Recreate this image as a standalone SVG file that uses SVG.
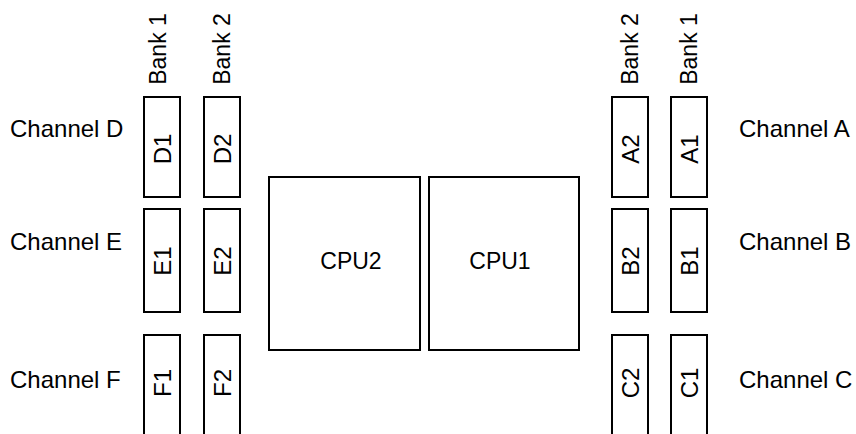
<svg xmlns="http://www.w3.org/2000/svg" width="856" height="434" viewBox="0 0 856 434">
<style>
.box{fill:#fff;stroke:#000;stroke-width:2}
.open{fill:none;stroke:#000;stroke-width:2}
text{font-family:"Liberation Sans",Arial,sans-serif;font-size:24px;fill:#000}
.c{text-anchor:middle}
.bank{font-size:23px}
.cpu{font-size:23px}
</style>
<rect x="0" y="0" width="856" height="434" fill="#fff"/>
<g id="labels">
<text x="10" y="137">Channel D</text>
<text x="10" y="250">Channel E</text>
<text x="10" y="388">Channel F</text>
<text x="739" y="137">Channel A</text>
<text x="739" y="250">Channel B</text>
<text x="739" y="388">Channel C</text>
<text class="c bank" transform="translate(166,49) rotate(-90)">Bank 1</text>
<text class="c bank" transform="translate(230,49) rotate(-90)">Bank 2</text>
<text class="c bank" transform="translate(638,49) rotate(-90)">Bank 2</text>
<text class="c bank" transform="translate(697,49) rotate(-90)">Bank 1</text>
</g>
<g id="cpu2"><rect class="box" x="269" y="177" width="151" height="173"/><text class="c cpu" x="351" y="269">CPU2</text></g>
<g id="cpu1"><rect class="box" x="429" y="177" width="150" height="173"/><text class="c cpu" x="500" y="269">CPU1</text></g>
<g id="D1"><rect class="box" x="144" y="97" width="36" height="100"/><text class="c" transform="translate(171,149) rotate(-90)">D1</text></g>
<g id="D2"><rect class="box" x="204" y="97" width="36" height="100"/><text class="c" transform="translate(231,149) rotate(-90)">D2</text></g>
<g id="E1"><rect class="box" x="144" y="209" width="36" height="103"/><text class="c" transform="translate(171,261) rotate(-90)">E1</text></g>
<g id="E2"><rect class="box" x="204" y="209" width="36" height="103"/><text class="c" transform="translate(231,261) rotate(-90)">E2</text></g>
<g id="F1"><path class="open" d="M144 436V335H180V436"/><text class="c" transform="translate(171,383) rotate(-90)">F1</text></g>
<g id="F2"><path class="open" d="M204 436V335H240V436"/><text class="c" transform="translate(231,383) rotate(-90)">F2</text></g>
<g id="A2"><rect class="box" x="612" y="97" width="36" height="100"/><text class="c" transform="translate(639,149) rotate(-90)">A2</text></g>
<g id="A1"><rect class="box" x="671" y="97" width="36" height="100"/><text class="c" transform="translate(698,149) rotate(-90)">A1</text></g>
<g id="B2"><rect class="box" x="612" y="209" width="36" height="103"/><text class="c" transform="translate(639,261) rotate(-90)">B2</text></g>
<g id="B1"><rect class="box" x="671" y="209" width="36" height="103"/><text class="c" transform="translate(698,261) rotate(-90)">B1</text></g>
<g id="C2"><path class="open" d="M612 436V335H648V436"/><text class="c" transform="translate(639,383) rotate(-90)">C2</text></g>
<g id="C1"><path class="open" d="M671 436V335H707V436"/><text class="c" transform="translate(698,383) rotate(-90)">C1</text></g>
<g id="connectors"></g>
</svg>
